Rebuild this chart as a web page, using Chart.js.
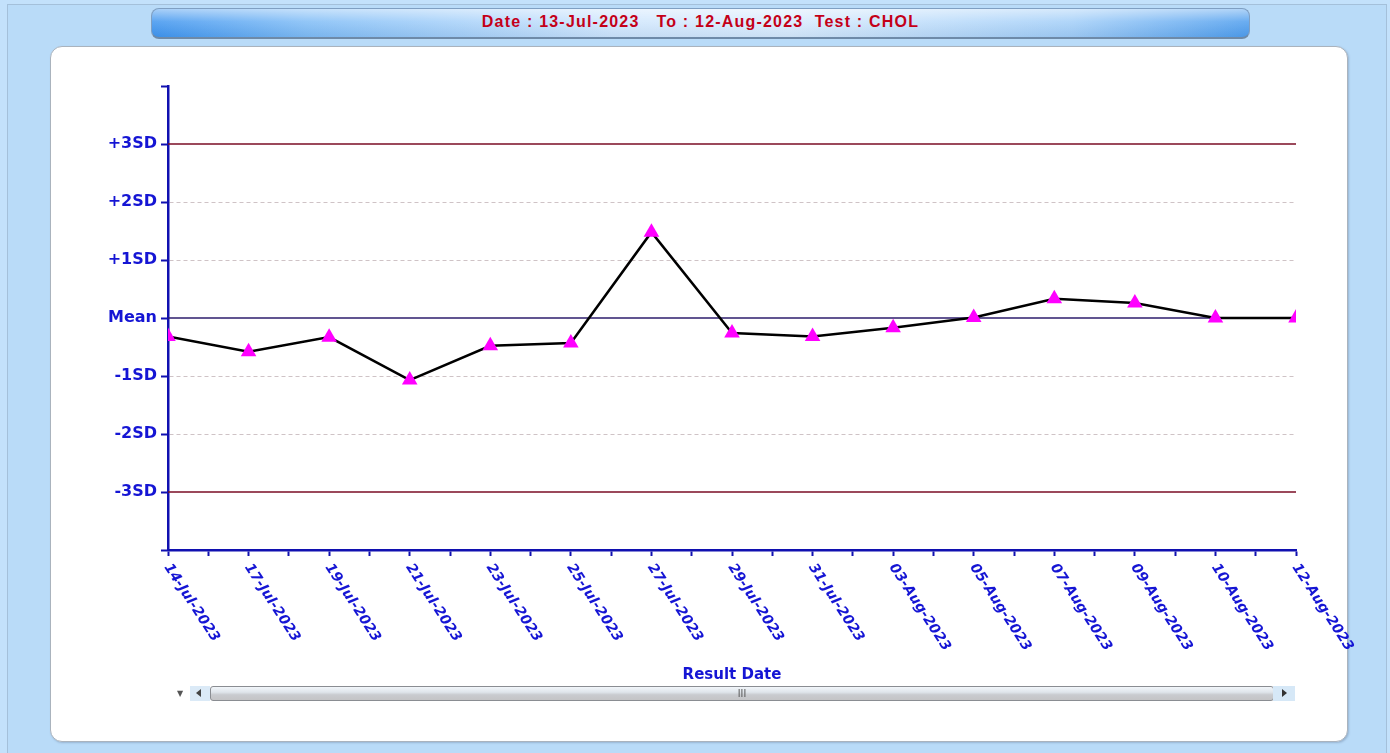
<!DOCTYPE html>
<html>
<head>
<meta charset="utf-8">
<script src="https://cdn.jsdelivr.net/npm/chart.js@4.4.0/dist/chart.umd.min.js"></script>
<style>
  html, body { margin: 0; padding: 0; }
  body { width: 1390px; height: 753px; background: #c3e1fb; position: relative; overflow: hidden; }
  #frame { position: absolute; left: 7px; top: 4px; width: 1378px; height: 760px; background: #b9dbf8; border: 1px solid #a4c0da; }
  #panel { position: absolute; left: 50px; top: 46px; width: 1296px; height: 694px; background: #ffffff; border: 1px solid #aab3bd; border-radius: 12px; box-shadow: 1px 1px 2px rgba(90,110,140,0.35); }
  #titlebar { position: absolute; left: 151px; top: 8px; width: 1097px; height: 28px; border: 1px solid #7f9fc2; border-bottom: 2px solid #6e8aa8; border-radius: 8px;
    background:
      linear-gradient(to bottom, rgba(255,255,255,0.55) 0%, rgba(255,255,255,0.15) 45%, rgba(0,40,90,0.06) 100%),
      linear-gradient(to right, #3f95ef 0%, #7fbcf6 14%, #cfe6fd 42%, #d8ebfd 58%, #a2cef8 84%, #4f9eee 100%);
    font-family: "Liberation Sans", Arial, sans-serif; font-weight: bold; font-size: 16px; letter-spacing: 1.2px; color: #c40018; text-align: center; line-height: 25px; white-space: pre; }
  #chartwrap { position: absolute; left: 0; top: 0; width: 1390px; height: 753px; }
  #scroll { position: absolute; left: 172px; top: 686px; width: 1124px; height: 15px; }
  #scroll .down { position: absolute; left: 2px; top: 0; width: 12px; height: 15px; font-size: 8px; line-height: 15px; color: #555; text-align: center; font-family: "DejaVu Sans", sans-serif; }
  #scroll .lbtn { position: absolute; left: 18px; top: 0; width: 20px; height: 15px; background: #dbeaf7; }
  #scroll .lbtn:after { content: ""; position: absolute; left: 6px; top: 3px; border-top: 4px solid transparent; border-bottom: 4px solid transparent; border-right: 5px solid #444; }
  #scroll .track { position: absolute; left: 38px; top: 0; width: 1062px; height: 13px; border: 1px solid #8a8d92; border-radius: 3px;
    background: linear-gradient(to bottom, #f2f6fa 0%, #dfe5eb 40%, #c9cbcf 60%, #c4c4c6 100%); }
  #scroll .grip { position: absolute; left: 0; right: 0; top: 0; text-align: center; font-family: "Liberation Sans", Arial, sans-serif; font-size: 10px; line-height: 13px; color: #555; letter-spacing: 0px; }
  #scroll .rbtn { position: absolute; left: 1101px; top: 0; width: 22px; height: 15px; background: #d6e8f7; }
  #scroll .rbtn:after { content: ""; position: absolute; left: 9px; top: 3px; border-top: 4px solid transparent; border-bottom: 4px solid transparent; border-left: 5px solid #333; }
</style>
</head>
<body>
<div id="frame"></div>
<div id="panel"></div>
<div id="titlebar">Date : 13-Jul-2023   To : 12-Aug-2023  Test : CHOL</div>
<div id="chartwrap"><canvas id="c" width="1390" height="753"></canvas></div>
<div id="scroll">
  <div class="down">▼</div>
  <div class="lbtn"></div>
  <div class="track"><div class="grip">III</div></div>
  <div class="rbtn"></div>
</div>
<script>
// ---- data ----
const resultDates = ['14-Jul-2023','17-Jul-2023','19-Jul-2023','21-Jul-2023','23-Jul-2023','25-Jul-2023','27-Jul-2023','29-Jul-2023','31-Jul-2023','03-Aug-2023','05-Aug-2023','07-Aug-2023','09-Aug-2023','10-Aug-2023','12-Aug-2023'];
const sdValues = [-0.32, -0.58, -0.33, -1.07, -0.48, -0.43, 1.48, -0.26, -0.32, -0.17, 0.01, 0.33, 0.26, 0.0, 0.0];
const yTickValues = [-3, -2, -1, 0, 1, 2, 3];
const yTickLabels = ['-3SD', '-2SD', '-1SD', 'Mean', '+1SD', '+2SD', '+3SD'];
const controlLimits = [3, -3];
const meanLine = [0];
const xAxisTitle = 'Result Date';

// ---- styles ----
const axisBlue = '#1010b0';
const labelBlue = '#1515d4';
const limitRed = '#7a0c24';
const meanPurple = '#2c1d6c';

const seriesPoints = sdValues.map((v, i) => ({ x: i, y: v }));
const flatLine = (val) => resultDates.map((d, i) => ({ x: i, y: val }));

const refDatasets = [];
controlLimits.forEach(v => refDatasets.push({ data: flatLine(v), borderColor: limitRed, borderWidth: 1.5, pointRadius: 0, fill: false }));
meanLine.forEach(v => refDatasets.push({ data: flatLine(v), borderColor: meanPurple, borderWidth: 1.4, pointRadius: 0, fill: false }));

const xLabelPlugin = {
  id: 'xLabels',
  afterDraw(chart) {
    const s = chart.scales.x;
    const ctx = chart.ctx;
    ctx.save();
    ctx.font = 'italic bold 14px "DejaVu Sans"';
    ctx.fillStyle = labelBlue;
    ctx.textAlign = 'left';
    ctx.textBaseline = 'middle';
    resultDates.forEach((d, i) => {
      const x = s.getPixelForValue(i);
      ctx.save();
      ctx.translate(x - 1, s.top + 15);
      ctx.rotate(57 * Math.PI / 180);
      ctx.fillText(d, 0, 0);
      ctx.restore();
    });
    ctx.restore();
  }
};

new Chart(document.getElementById('c'), {
  type: 'line',
  data: {
    datasets: [
      { data: seriesPoints, borderColor: '#000000', borderWidth: 2.5, tension: 0, fill: false,
        pointStyle: 'triangle', pointRadius: 9, pointHoverRadius: 9, pointBackgroundColor: '#ff00ff', pointBorderColor: '#ff00ff', pointBorderWidth: 0 },
      ...refDatasets
    ]
  },
  options: {
    responsive: false,
    animation: false,
    events: [],
    layout: { padding: { left: 0, top: 86, right: 94, bottom: 66 } },
    plugins: { legend: { display: false }, tooltip: { enabled: false }, title: { display: false } },
    scales: {
      x: {
        type: 'linear', min: 0, max: resultDates.length - 1,
        afterFit: (s) => { s.height = 137; },
        ticks: { stepSize: 0.5, display: false, autoSkip: false },
        grid: { drawOnChartArea: false, drawTicks: true, tickLength: 6, tickColor: axisBlue, tickWidth: 2 },
        border: { display: true, color: axisBlue, width: 2.5 },
        title: { display: true, text: xAxisTitle, color: labelBlue, font: { family: 'DejaVu Sans', weight: 'bold', size: 15 }, padding: { top: 4, bottom: 3 } }
      },
      y: {
        type: 'linear', min: -4, max: 4,
        afterFit: (s) => { s.width = 168; },
        ticks: {
          stepSize: 1, autoSkip: false, padding: 4, color: labelBlue,
          font: { family: 'DejaVu Sans', weight: 'bold', size: 16 },
          callback: (v) => { const k = yTickValues.indexOf(v); return k >= 0 ? yTickLabels[k] : ''; }
        },
        grid: {
          drawOnChartArea: true, drawTicks: true, tickLength: 7, tickColor: axisBlue, tickWidth: 2,
          color: (ctx) => { const v = ctx.tick ? ctx.tick.value : null; return (v === 1 || v === 2 || v === -1 || v === -2) ? '#cfc3c6' : 'rgba(0,0,0,0)'; },
          lineWidth: 1
        },
        border: { display: true, color: axisBlue, width: 2.5, dash: [4, 3] }
      }
    }
  },
  plugins: [xLabelPlugin]
});
</script>
</body>
</html>
